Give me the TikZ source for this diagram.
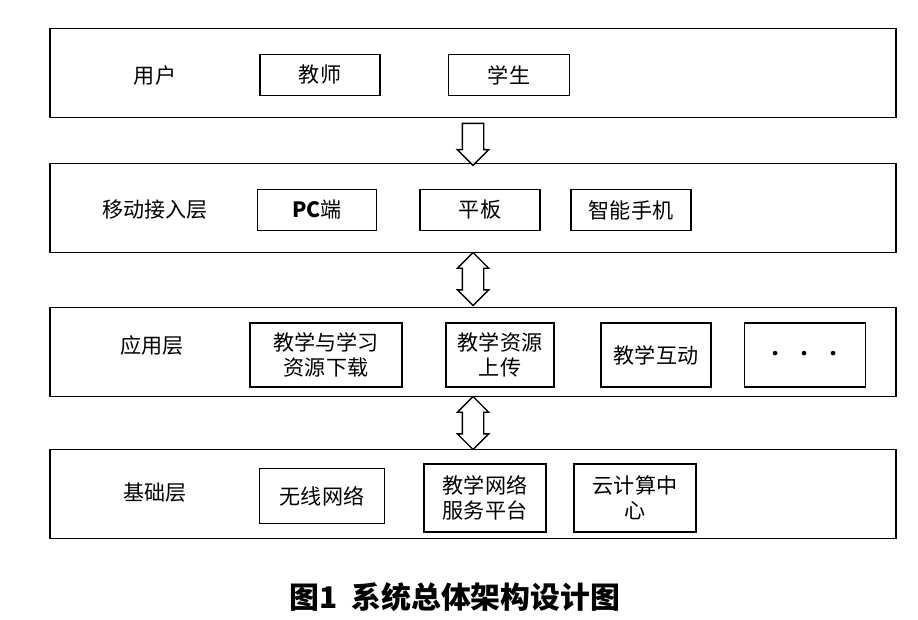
\documentclass[tikz,border=0pt]{standalone}
\usepackage{fontspec}
\setmainfont{Liberation Serif}
\newfontfamily\cjk{Noto Sans CJK SC}
\usetikzlibrary{shapes.arrows}
\begin{document}
\begin{tikzpicture}[x=0.02cm,y=-0.02cm,
    layer/.style={draw, line width=0.8pt, minimum width=16.92cm, minimum height=1.78cm},
    item/.style={draw, line width=0.8pt, font=\cjk\fontsize{12}{14}\selectfont, align=center, inner sep=1pt},
    layerlabel/.style={font=\cjk\fontsize{12}{14}\selectfont},
    flow/.style={draw, line width=0.8pt, fill=white, rotate=90, inner sep=0.2cm,
      single arrow head extend=0.1cm, double arrow head extend=0.1cm}]
  \useasboundingbox (0,0) rectangle (918,619);
  % layers
  \node[layer] (user) at (473,73) {};
  \node[layer] (mobile) at (473,208) {};
  \node[layer] (app) at (473,352) {};
  \node[layer] (base) at (473,494) {};
  % layer names
  \node[layerlabel] (userName) at (155,75) {用户};
  \node[layerlabel] (mobileName) at (155,210) {移动接入层};
  \node[layerlabel] (appName) at (152,345) {应用层};
  \node[layerlabel] (baseName) at (155,493) {基础层};
  % user items
  \node[item, minimum width=2.4cm, minimum height=0.82cm] (teacher) at (320,75) {教师};
  \node[item, minimum width=2.42cm, minimum height=0.82cm] (student) at (509,75) {学生};
  % mobile items
  \node[item, minimum width=2.38cm, minimum height=0.82cm] (pc) at (317,210) {\textbf{PC}端};
  \node[item, minimum width=2.4cm, minimum height=0.82cm] (tablet) at (480,210) {平板};
  \node[item, minimum width=2.4cm, minimum height=0.82cm] (phone) at (631,210) {智能手机};
  % app items
  \node[item, minimum width=3.04cm, minimum height=1.28cm] (download) at (326,355) {教学与学习\\资源下载};
  \node[item, minimum width=2.16cm, minimum height=1.28cm] (upload) at (500,355) {教学资源\\上传};
  \node[item, minimum width=2.2cm, minimum height=1.28cm] (interact) at (656,355) {教学互动};
  \node[item, minimum width=2.42cm, minimum height=1.28cm, font=\Huge] (more) at (805,355) {$\cdot\,\cdot\,\cdot$};
  % base items
  \node[item, minimum width=2.5cm, minimum height=1.1cm] (wireless) at (322,496) {无线网络};
  \node[item, minimum width=2.44cm, minimum height=1.36cm] (platform) at (485,498) {教学网络\\服务平台};
  \node[item, minimum width=2.44cm, minimum height=1.36cm] (cloud) at (635,498) {云计算中\\心};
  % arrows
  \node[flow, single arrow, shape border rotate=180, minimum height=0.84cm] (a1) at (473,139) {};
  \node[flow, double arrow, minimum height=1.06cm] (a2) at (473,279) {};
  \node[flow, double arrow, minimum height=1.06cm] (a3) at (473,423) {};
  % caption
  \node[font=\cjk\bfseries\fontsize{17}{20}\selectfont] (caption) at (455,597) {图1\ \ 系统总体架构设计图};
\end{tikzpicture}
\end{document}
